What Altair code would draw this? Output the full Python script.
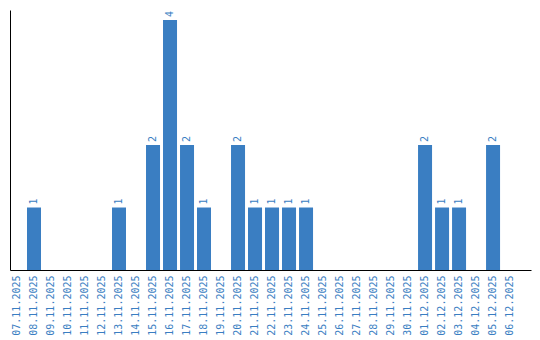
import altair as alt
import pandas as pd

dates = ["07.11.2025", "08.11.2025", "09.11.2025", "10.11.2025", "11.11.2025",
         "12.11.2025", "13.11.2025", "14.11.2025", "15.11.2025", "16.11.2025",
         "17.11.2025", "18.11.2025", "19.11.2025", "20.11.2025", "21.11.2025",
         "22.11.2025", "23.11.2025", "24.11.2025", "25.11.2025", "26.11.2025",
         "27.11.2025", "28.11.2025", "29.11.2025", "30.11.2025", "01.12.2025",
         "02.12.2025", "03.12.2025", "04.12.2025", "05.12.2025", "06.12.2025"]
counts = [0, 1, 0, 0, 0, 0, 1, 0, 2, 4, 2, 1, 0, 2, 1, 1, 1, 1, 0, 0,
          0, 0, 0, 0, 2, 1, 1, 0, 2, 0]

df = pd.DataFrame({"date": dates, "count": counts})
df["label"] = df["count"].map(lambda v: str(v) if v > 0 else "")

blue = "#3a7ec2"
font = "DejaVu Sans Mono"

x = alt.X("date:N", sort=dates, title=None,
          scale=alt.Scale(paddingInner=0.176, paddingOuter=0.41, align=0),
          axis=alt.Axis(labelAngle=-90, ticks=False, domainColor="black",
                        domainWidth=1, labelColor=blue, labelFont=font,
                        labelFontSize=10, labelPadding=5, grid=False))
y = alt.Y("count:Q", title=None,
          scale=alt.Scale(domain=[0, 4.16], nice=False),
          axis=alt.Axis(labels=False, ticks=False, grid=False,
                        domainColor="black", domainWidth=1))

bars = alt.Chart(df).mark_bar(color=blue).encode(x=x, y=y)
text = alt.Chart(df).mark_text(angle=270, align="left", baseline="middle",
                               dx=3, color=blue, font=font, fontSize=10).encode(
    x=alt.X("date:N", sort=dates),
    y=alt.Y("count:Q"),
    text="label:N")

chart = (bars + text).properties(
    width=521, height=260,
    autosize=alt.AutoSizeParams(type="none"),
    padding={"left": 10, "top": 10, "right": 9, "bottom": 70}
).configure_view(stroke=None)

chart.save("out.html", embed_options={"renderer": "svg", "actions": False})
